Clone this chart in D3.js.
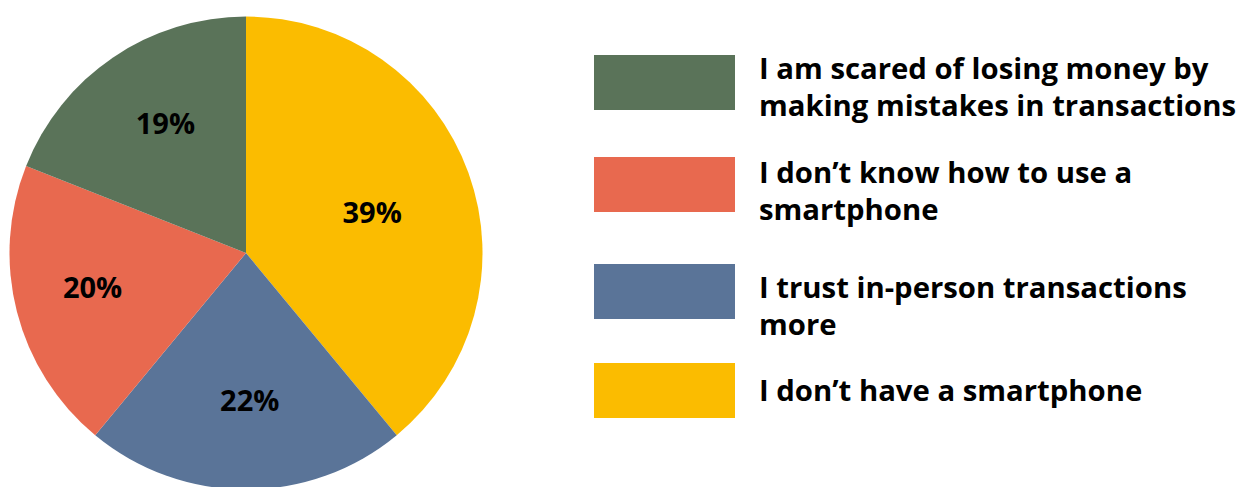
<!DOCTYPE html>
<html>
<head>
<meta charset="utf-8">
<script src="https://cdn.jsdelivr.net/npm/d3@7"></script>
<style>
  html, body { margin: 0; padding: 0; background: #ffffff; }
  svg { display: block; }
  text { font-family: "Open Sans", "Noto Sans", sans-serif; font-weight: 700; fill: #000; }
</style>
</head>
<body>
<svg id="chart" width="1239" height="487"></svg>
<script>
// Reasons for not using mobile banking (share of respondents, %)
const categories = [
  "I don’t have a smartphone",
  "I trust in-person transactions more",
  "I don’t know how to use a smartphone",
  "I am scared of losing money by making mistakes in transactions"
];
const values = [39, 22, 20, 19];
const valueLabels = ["39%", "22%", "20%", "19%"];
// Legend text, wrapped onto lines
const legendLines = [
  ["I don’t have a smartphone"],
  ["I trust in-person transactions", "more"],
  ["I don’t know how to use a", "smartphone"],
  ["I am scared of losing money by", "making mistakes in transactions"]
];
const colors = ["#FBBC00", "#5A7498", "#E8694F", "#5A7359"];

// ---- layout ----
const cx = 246, cy = 253, R = 236.5;
// distance of each value label from the centre, as a share of the radius
const labelDist = [0.56, 0.625, 0.665, 0.645];
// small angular nudge of each value label (radians)
const labelTurn = [0.035, -0.025, 0.03, 0.04];
// legend rows listed top to bottom (reverse of the slice order)
const legendOrder = [3, 2, 1, 0];
const legendRows = [
  { swatchTop: 55,  baseline: 79 },
  { swatchTop: 157, baseline: 183 },
  { swatchTop: 264, baseline: 298 },
  { swatchTop: 363, baseline: 401 }
];
const swatchX = 594, swatchW = 141, swatchH = 55;
const textX = 759, lineH = 37;

const svg = d3.select("#chart");

const color = d3.scaleOrdinal().domain(categories).range(colors);

const pie = d3.pie()
  .value(d => d.value)
  .sort(null)
  .startAngle(0)
  .endAngle(2 * Math.PI);

const data = categories.map((c, i) => ({ category: c, value: values[i], label: valueLabels[i], idx: i }));
const arcs = pie(data);

const arc = d3.arc().innerRadius(0).outerRadius(R);

const g = svg.append("g").attr("transform", `translate(${cx},${cy})`);

g.selectAll("path.slice")
  .data(arcs)
  .join("path")
  .attr("class", "slice")
  .attr("d", arc)
  .attr("fill", d => color(d.data.category));

g.selectAll("text.value")
  .data(arcs)
  .join("text")
  .attr("class", "value")
  .attr("transform", d => {
    const r = R * labelDist[d.data.idx];
    const a = (d.startAngle + d.endAngle) / 2 + labelTurn[d.data.idx];
    return `translate(${r * Math.sin(a)},${-r * Math.cos(a)})`;
  })
  .attr("text-anchor", "middle")
  .attr("dy", "0.36em")
  .style("font-size", "29px")
  .text(d => d.data.label);

// ---- legend ----
const legend = svg.append("g");
legendOrder.forEach((idx, row) => {
  const pos = legendRows[row];
  legend.append("rect")
    .attr("x", swatchX)
    .attr("y", pos.swatchTop)
    .attr("width", swatchW)
    .attr("height", swatchH)
    .attr("fill", color(categories[idx]));
  const t = legend.append("text")
    .attr("x", textX)
    .attr("y", pos.baseline)
    .style("font-size", "29.3px");
  legendLines[idx].forEach((line, k) => {
    t.append("tspan")
      .attr("x", textX)
      .attr("dy", k === 0 ? 0 : lineH)
      .text(line);
  });
});
</script>
</body>
</html>
